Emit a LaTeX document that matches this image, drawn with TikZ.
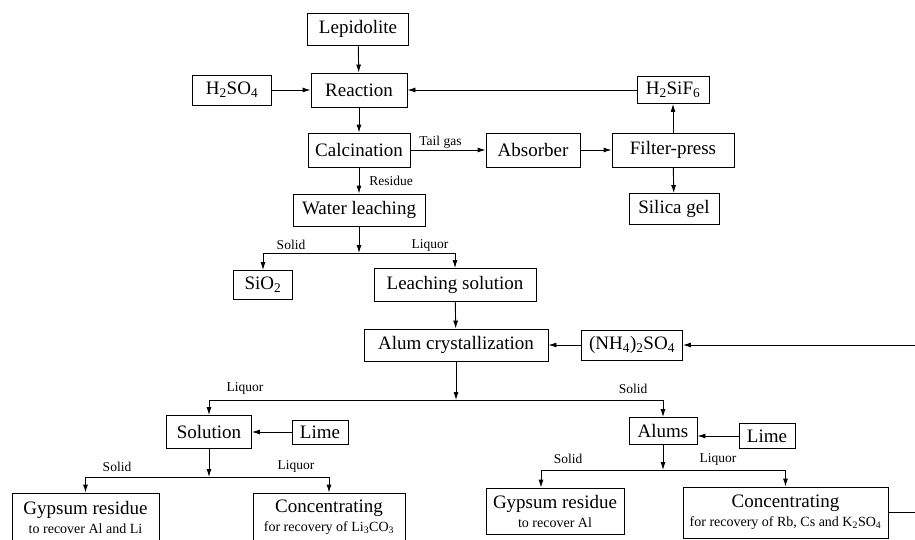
\documentclass[tikz,border=0pt]{standalone}
\usepackage{fontspec}
\setmainfont{Liberation Serif}
\usepackage{tikz}
\usetikzlibrary{arrows.meta}
\usetikzlibrary{positioning}
\tikzset{
  box/.style={draw, line width=0.9pt, inner sep=2pt, minimum height=32pt,
    font=\fontsize{19}{21}\selectfont},
  twobox/.style={box, align=center, minimum height=48pt},
  lbl/.style={inner sep=1pt, font=\fontsize{13.5}{15}\selectfont},
  conn/.style={line width=0.9pt, -{Latex[length=8pt,width=5pt]}},
}
\newcommand{\subline}[1]{{\fontsize{14}{16}\selectfont #1}}

\begin{document}
\begin{tikzpicture}[x=1pt, y=-1pt]
      \useasboundingbox (0,0) rectangle (915,539);

      % upper part
      \node [box, minimum width=101pt] (lep) at (358,29) {Lepidolite};
      \node [box, minimum width=96pt, minimum height=34pt] (reac) at (359,90) {Reaction};
      \node [box, minimum width=79pt, minimum height=30pt] (hso) at (232,90) {H\textsubscript{2}SO\textsubscript{4}};
      \node [box, minimum width=102pt, minimum height=34pt] (calc) at (359,150) {Calcination};
      \node [box, minimum width=94pt, minimum height=34pt] (abs) at (533,150) {Absorber};
      \node [box, minimum width=122pt, minimum height=34pt] (filt) at (673,150) {Filter-press};
      \node [box, minimum width=72pt, minimum height=27pt] (hsif) at (673,90) {H\textsubscript{2}SiF\textsubscript{6}};
      \node [box, minimum width=90pt, minimum height=31pt] (sil) at (674,209) {Silica gel};
      \node [box, minimum width=132pt] (wat) at (359,210) {Water leaching};
      \node [box, minimum width=59pt, minimum height=29pt] (sio) at (263,285) {SiO\textsubscript{2}};
      \node [box, minimum width=162pt, minimum height=33pt] (leach) at (455,285) {Leaching solution};
      \node [box, minimum width=184pt] (alum) at (456,345) {Alum crystallization};
      \node [box, minimum width=101pt, minimum height=30pt] (nh) at (632,345) {(NH\textsubscript{4})\textsubscript{2}SO\textsubscript{4}};

      \draw [conn] (lep) -- (reac);
      \draw [conn] (hso) -- (reac);
      \draw [conn] (hsif) -- (reac);
      \draw [conn] (reac) -- (calc);
      \draw [conn] (calc) -- node [lbl, above, pos=0.4] (ttail) {Tail gas} (abs);
      \draw [conn] (abs) -- (filt);
      \draw [conn] (filt) -- (hsif);
      \draw [conn] (filt) -- (sil);
      \draw [conn] (calc) -- node [lbl, right=9pt] (tres) {Residue} (wat);

      \coordinate (j1) at (359,253);
      \draw [conn] (wat) -- (j1);
      \draw [conn] (j1) -| (sio);
      \draw [conn] (j1) -| (leach);
      \node [lbl] (tsolid1) at (291,245) {Solid};
      \node [lbl] (tliq1) at (430,245) {Liquor};
      \draw [conn] (leach) -- (alum);
      \draw [conn] (nh) -- (alum);

      % lower part
      \node [box, minimum width=85pt, minimum height=33pt] (sol) at (209,432) {Solution};
      \node [box, minimum width=56pt, minimum height=24pt] (limea) at (320,432) {Lime};
      \node [box, minimum width=68pt, minimum height=27pt] (alums) at (663,431) {Alums};
      \node [box, minimum width=56pt, minimum height=25pt] (limeb) at (767,436) {Lime};

      \coordinate (j2) at (456,400);
      \draw [conn] (alum) -- (j2);
      \draw [conn] (j2) -| (sol);
      \draw [conn] (j2) -| (alums);
      \node [lbl] (tliq2) at (245,388) {Liquor};
      \node [lbl] (tsolid2) at (633,389) {Solid};
      \draw [conn] (limea) -- (sol);
      \draw [conn] (limeb.west) -- (limeb.west -| alums.east);

      \node [twobox, minimum width=147pt] (gypa) at (85.5,517) {Gypsum residue\\[-2pt]\subline{to recover Al and Li}};
      \node [twobox, minimum width=152pt] (conca) at (329,517) {Concentrating\\[-2pt]\subline{for recovery of Li\textsubscript{3}CO\textsubscript{3}}};
      \node [twobox, minimum width=138pt, minimum height=46pt] (gypb) at (555,511) {Gypsum residue\\[-2pt]\subline{to recover Al}};
      \node [twobox, minimum width=205pt, minimum height=51pt] (concb) at (785.5,512.5) {Concentrating\\[-2pt]\subline{for recovery of Rb, Cs and K\textsubscript{2}SO\textsubscript{4}}};

      \coordinate (j3) at (209,477);
      \draw [conn] (sol) -- (j3);
      \draw [conn] (j3) -| (gypa);
      \draw [conn] (j3) -| (conca);
      \node [lbl] (tsolid3) at (117,467) {Solid};
      \node [lbl] (tliq3) at (296,466) {Liquor};

      \coordinate (j4) at (663,470);
      \coordinate (g4) at (541,470);
      \draw [conn] (alums) -- (j4);
      \draw [line width=0.9pt] (j4) -- (g4);
      \draw [conn] (g4) -- (g4 |- gypb.north);
      \draw [conn] (j4) -| (concb);
      \node [lbl] (tsolid4) at (568,459) {Solid};
      \node [lbl] (tliq4) at (718,459) {Liquor};

      % return of the ammonium sulphate
      \coordinate (edge) at (919,430);
      \draw [conn] (concb.east) -| (edge) |- (nh.east);
\end{tikzpicture}
\end{document}
